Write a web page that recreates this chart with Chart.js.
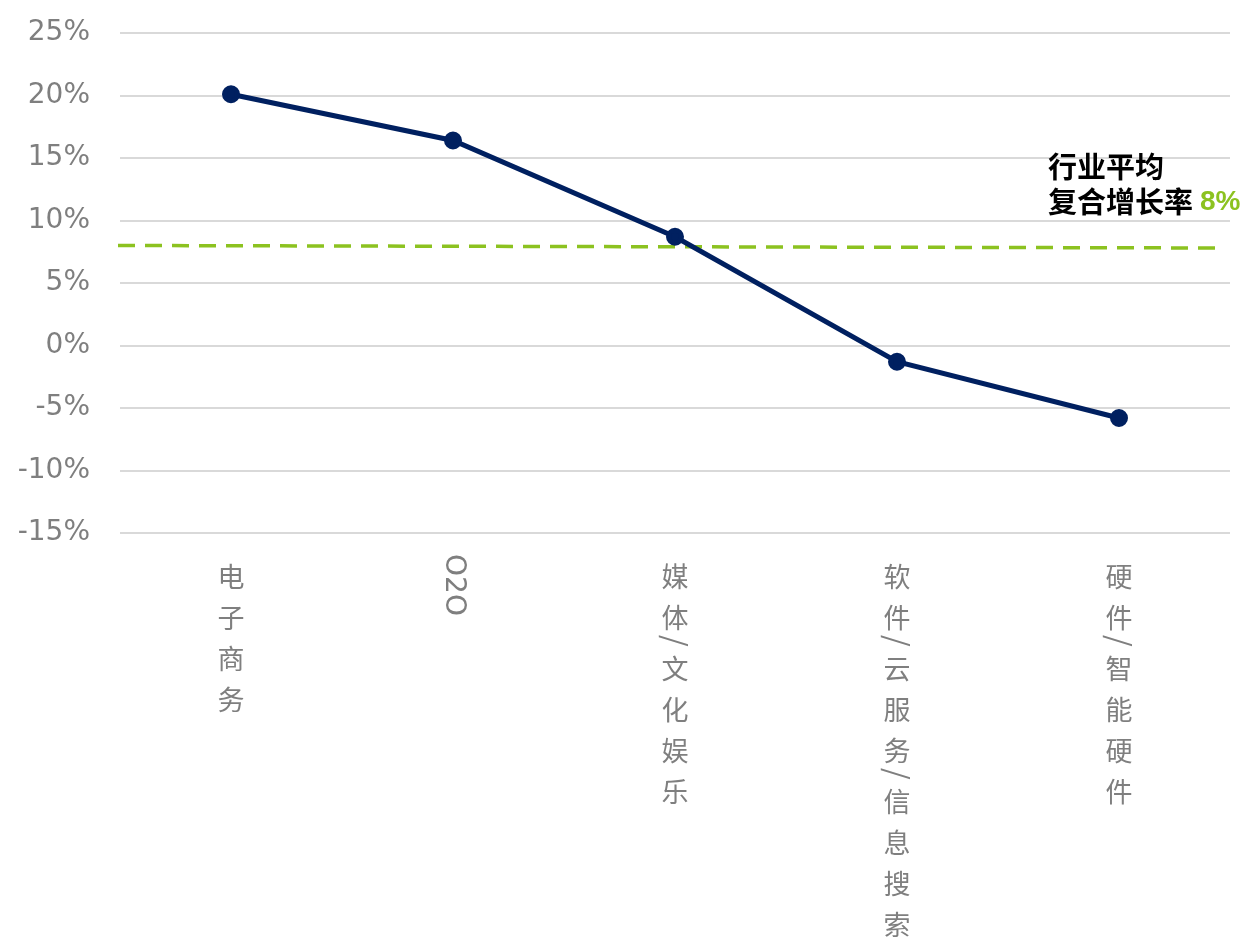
<!DOCTYPE html>
<html lang="zh">
<head>
    <meta charset="UTF-8">
    <title>行业复合增长率</title>
    <script src="https://cdn.jsdelivr.net/npm/chart.js"></script>
    <style>
        body { margin: 0; background: #fff; }
        #wrap { width: 1248px; height: 938px; }
    </style>
</head>
<body>
    <div id="wrap"><canvas id="growthChart"></canvas></div>

    <script>
        // data
        const categories = ['电子商务', 'O2O', '媒体/文化娱乐', '软件/云服务/信息搜索', '硬件/智能硬件'];
        const growth = [20.1, 16.4, 8.7, -1.3, -5.8];
        const avgStart = 8.0;   // industry average, left end of dashed line
        const avgEnd = 7.8;     // right end (line is slightly tilted in the source)
        const yTicks = [25, 20, 15, 10, 5, 0, -5, -10, -15];
        const noteLines = ['行业平均', '复合增长率'];
        const noteValue = '8%';

        const gray = '#7f7f7f';
        const navy = '#002060';
        const green = '#8cc220';

        // vertical (stacked) x labels, average line and note
        const extras = {
            id: 'extras',
            beforeDatasetsDraw(chart) {
                const ctx = chart.ctx;
                const y = chart.scales.y;
                ctx.save();
                ctx.strokeStyle = green;
                ctx.lineWidth = 3.5;
                ctx.setLineDash([17, 10]);
                ctx.beginPath();
                ctx.moveTo(chart.chartArea.left - 2, y.getPixelForValue(avgStart));
                ctx.lineTo(chart.chartArea.right - 8, y.getPixelForValue(avgEnd));
                ctx.stroke();
                ctx.restore();
            },
            afterDraw(chart) {
                const ctx = chart.ctx;
                const xs = chart.scales.x;
                ctx.save();
                ctx.fillStyle = gray;
                ctx.textAlign = 'center';
                ctx.textBaseline = 'middle';
                categories.forEach((lab, i) => {
                    const x = xs.getPixelForTick(i);
                    if (/^[A-Za-z0-9]+$/.test(lab)) {
                        ctx.save();
                        ctx.font = '28px "DejaVu Sans", sans-serif';
                        ctx.translate(x, 585);
                        ctx.rotate(Math.PI / 2);
                        ctx.fillText(lab, 0, 0);
                        ctx.restore();
                        return;
                    }
                    let cy = 577;
                    let prevSlash = false;
                    [...lab].forEach((ch, k) => {
                        if (ch === '/') {
                            cy += (k === 0 ? 0 : 23);
                            ctx.save();
                            ctx.font = '30px "Noto Sans CJK SC", sans-serif';
                            ctx.translate(x, cy);
                            ctx.rotate(Math.PI / 2);
                            ctx.fillText('/', 0, 0);
                            ctx.restore();
                            prevSlash = true;
                        } else {
                            if (k > 0) cy += prevSlash ? 28 : 41;
                            ctx.font = '27px "Noto Sans CJK SC", sans-serif';
                            ctx.fillText(ch, x, cy);
                            prevSlash = false;
                        }
                    });
                });

                // note at right
                ctx.textAlign = 'left';
                ctx.fillStyle = '#000';
                ctx.font = 'bold 29px "Noto Sans CJK SC", sans-serif';
                ctx.fillText(noteLines[0], 1048, 167);
                ctx.fillText(noteLines[1], 1048, 202);
                const w = ctx.measureText(noteLines[1]).width;
                ctx.fillStyle = green;
                ctx.font = 'bold 28px "Liberation Sans", Arial, sans-serif';
                ctx.fillText(noteValue, 1048 + w + 7, 202);
                ctx.restore();
            }
        };

        const ctx = document.getElementById('growthChart').getContext('2d');
        const growthChart = new Chart(ctx, {
            type: 'line',
            data: {
                labels: categories,
                datasets: [{
                    data: growth,
                    borderColor: navy,
                    backgroundColor: navy,
                    borderWidth: 5,
                    pointRadius: 6.5,
                    pointHoverRadius: 6.5,
                    tension: 0,
                    clip: false
                }]
            },
            options: {
                responsive: true,
                maintainAspectRatio: false,
                animation: false,
                layout: { padding: { top: 33, right: 18, left: 0, bottom: 0 } },
                plugins: {
                    legend: { display: false },
                    tooltip: { enabled: false }
                },
                scales: {
                    x: {
                        offset: true,
                        grid: { display: false, drawTicks: false },
                        border: { display: false },
                        ticks: { display: false },
                        afterFit(scale) { scale.height = 405; }
                    },
                    y: {
                        min: -15,
                        max: 25,
                        afterBuildTicks(scale) {
                            scale.ticks = yTicks.map(v => ({ value: v }));
                        },
                        grid: { color: '#d9d9d9', lineWidth: 2, drawTicks: false },
                        border: { display: false },
                        ticks: {
                            color: gray,
                            padding: 30,
                            font: { family: '"DejaVu Sans", sans-serif', size: 28 },
                            callback: v => v + '%'
                        },
                        afterFit(scale) {
                            scale.width = 120;
                            scale.paddingTop = 0;
                            scale.paddingBottom = 0;
                        }
                    }
                }
            },
            plugins: [extras]
        });
    </script>
</body>
</html>
